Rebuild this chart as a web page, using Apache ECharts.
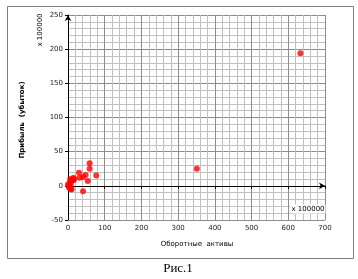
<!DOCTYPE html>
<html><head><meta charset="utf-8">
<script src="https://cdn.jsdelivr.net/npm/echarts@6/dist/echarts.min.js"></script>
<style>html,body{margin:0;padding:0;background:#fff}#c{width:358px;height:279px}</style>
</head><body><div id="c"></div>
<script>
const assets = [59, 59, 30, 77, 48, 41, 32, 15, 15, 54, 41, 8, 0, 2, 3, 5, 5, 8, 8, 10, 12, 6, 4, 17, 351, 633];
const profit = [33, 25, 19, 15, 16, 13, 12, 12, 8, 7, -8, -5, 2, 0, -2, 5, -1, 7, 3, -5, 9, 10, -3, 10, 25, 194];
const xTicks = [0, 100, 200, 300, 400, 500, 600, 700];
const yTicks = [-50, 0, 50, 100, 150, 200, 250];
const xTitle = 'Оборотные  активы';
const yTitle = 'Прибыль  (убыток)';
const scaleNote = 'x 100000';
const caption = 'Рис.1';

const chart = echarts.init(document.getElementById('c'), null, {renderer: 'canvas'});
const txt = {fontFamily: 'DejaVu Sans', fontSize: 7, color: '#222'};
chart.setOption({
  animation: false,
  backgroundColor: '#fff',
  grid: {left: 68, top: 15, width: 257, height: 205, containLabel: false},
  xAxis: {
    type: 'value', min: xTicks[0], max: xTicks[xTicks.length - 1], interval: 100,
    axisLine: {onZero: true, lineStyle: {color: '#000', width: 1}, symbol: ['none', 'arrow'], symbolSize: [5, 6]},
    axisTick: {show: true, inside: false, length: 3, lineStyle: {color: '#000'}},
    axisLabel: Object.assign({margin: 5}, txt),
    splitLine: {show: true, lineStyle: {color: '#8c8c8c', width: 1}},
    minorTick: {show: true, splitNumber: 5, length: 0},
    minorSplitLine: {show: true, lineStyle: {color: '#c0c0c0', width: 1}}
  },
  yAxis: {
    type: 'value', min: yTicks[0], max: yTicks[yTicks.length - 1], interval: 50,
    axisLine: {onZero: false, lineStyle: {color: '#000', width: 1}, symbol: ['none', 'arrow'], symbolSize: [5, 6]},
    axisTick: {show: true, length: 3, lineStyle: {color: '#000'}},
    axisLabel: Object.assign({margin: 5}, txt),
    splitLine: {show: true, lineStyle: {color: '#8c8c8c', width: 1}},
    minorTick: {show: true, splitNumber: 5, length: 0},
    minorSplitLine: {show: true, lineStyle: {color: '#c0c0c0', width: 1}}
  },
  series: [{
    type: 'scatter',
    data: assets.map((a, i) => [a, profit[i]]),
    symbolSize: 6,
    itemStyle: {color: '#ff0000'},
    z: 5
  }],
  graphic: [
    {type: 'rect', shape: {x: 7.5, y: 6.5, width: 346, height: 252}, style: {fill: 'none', stroke: '#808080', lineWidth: 1}, z: 100},
    {type: 'text', x: 22, y: 120, rotation: Math.PI / 2, style: {text: yTitle, fontFamily: 'DejaVu Sans', fontSize: 7, fontWeight: 'bold', fill: '#000', align: 'center', verticalAlign: 'middle'}, z: 100},
    {type: 'text', x: 40, y: 30, rotation: Math.PI / 2, style: {text: scaleNote, fontFamily: 'DejaVu Sans', fontSize: 7, fill: '#000', align: 'center', verticalAlign: 'middle'}, z: 100},
    {type: 'text', x: 308, y: 209, style: {text: scaleNote, fontFamily: 'DejaVu Sans', fontSize: 7, fill: '#000', align: 'center', verticalAlign: 'middle', backgroundColor: '#fff', padding: [1, 1]}, z: 100},
    {type: 'text', x: 197, y: 244, style: {text: xTitle, fontFamily: 'DejaVu Sans', fontSize: 7, fill: '#000', align: 'center', verticalAlign: 'middle'}, z: 100},
    {type: 'text', x: 178, y: 269, style: {text: caption, fontFamily: 'Liberation Serif', fontSize: 13, fill: '#000', align: 'center', verticalAlign: 'middle'}, z: 100}
  ]
});
</script></body></html>
